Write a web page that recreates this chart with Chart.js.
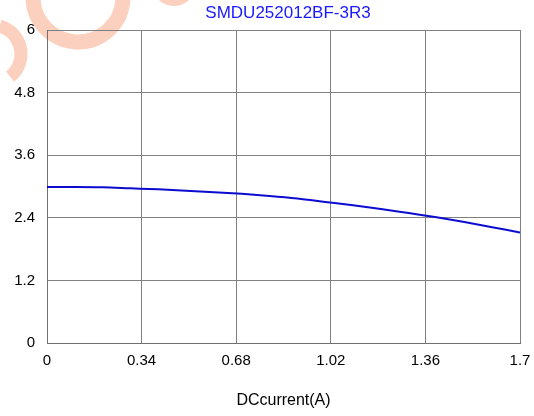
<!DOCTYPE html>
<html>
<head>
<meta charset="utf-8">
<script src="https://cdn.jsdelivr.net/npm/chart.js@4/dist/chart.umd.min.js"></script>
<style>
  html, body { margin: 0; padding: 0; background: #fff; }
  #wrap { width: 534px; height: 416px; }
</style>
</head>
<body>
<div id="wrap"><canvas id="courbe" width="534" height="416"></canvas></div>
<script>
// Inductance en fonction du courant DC
const chartTitle = "SMDU252012BF-3R3";
const xTitle = "DCcurrent(A)";
const current = [0, 0.1, 0.2, 0.3, 0.4, 0.5, 0.6, 0.7, 0.8, 0.9, 1.0, 1.1, 1.2, 1.3, 1.4, 1.5, 1.6, 1.7];
const inductance = [2.99, 2.99, 2.985, 2.965, 2.945, 2.92, 2.89, 2.86, 2.82, 2.77, 2.705, 2.64, 2.57, 2.49, 2.41, 2.32, 2.22, 2.12];
const xTicks = [0, 0.34, 0.68, 1.02, 1.36, 1.7];
const yTicks = [0, 1.2, 2.4, 3.6, 4.8, 6];

// filigrane + titre dessinés sur le canvas
const decor = {
  id: "decor",
  beforeDraw(chart) {
    const ctx = chart.ctx;
    ctx.save();
    ctx.strokeStyle = "#fcd0bf";
    ctx.lineCap = "butt";
    ctx.lineWidth = 15;
    ctx.beginPath();
    ctx.arc(78, -3, 45, 0.05, Math.PI - 0.05);
    ctx.stroke();
    ctx.lineWidth = 13;
    ctx.beginPath();
    ctx.arc(-8, 54, 29, -1.3, 0.9);
    ctx.stroke();
    ctx.lineWidth = 8;
    ctx.beginPath();
    ctx.arc(174, -16, 18, 0.3, Math.PI - 0.3);
    ctx.stroke();
    ctx.restore();
  },
  afterDraw(chart) {
    const ctx = chart.ctx;
    ctx.save();
    ctx.fillStyle = "#1a1aff";
    ctx.font = "17px 'Liberation Sans', Arial, sans-serif";
    ctx.textAlign = "center";
    ctx.textBaseline = "middle";
    ctx.fillText(chartTitle, 288, 13);
    ctx.restore();
  }
};

const el = document.getElementById("courbe");
new Chart(el, {
  type: "line",
  data: {
    datasets: [{
      data: current.map((x, i) => ({ x: x, y: inductance[i] })),
      borderColor: "#0c0cd0",
      borderWidth: 2,
      pointRadius: 0,
      fill: false,
      cubicInterpolationMode: "monotone"
    }]
  },
  options: {
    responsive: false,
    animation: false,
    layout: { padding: { top: 30, right: 14, left: 0, bottom: 0 } },
    plugins: { legend: { display: false }, title: { display: false }, tooltip: { enabled: false } },
    scales: {
      x: {
        type: "linear",
        min: 0,
        max: 1.7,
        afterBuildTicks: (s) => { s.ticks = xTicks.map(v => ({ value: v })); },
        afterFit: (s) => { s.height = 73; s.paddingLeft = 0; s.paddingRight = 0; },
        grid: { color: "#808080", drawTicks: false },
        border: { color: "#707070" },
        ticks: {
          color: "#000",
          padding: 9,
          maxRotation: 0,
          font: { family: "'Liberation Sans', Arial, sans-serif", size: 15 },
          callback: (v) => String(v)
        },
        title: {
          display: true,
          text: xTitle,
          color: "#000",
          padding: { top: 0, bottom: 6 },
          font: { family: "'Liberation Sans', Arial, sans-serif", size: 16 }
        }
      },
      y: {
        min: 0,
        max: 6,
        afterBuildTicks: (s) => { s.ticks = yTicks.map(v => ({ value: v })); },
        afterFit: (s) => { s.width = 47; s.paddingTop = 0; s.paddingBottom = 0; },
        grid: { color: "#808080", drawTicks: false },
        border: { color: "#707070" },
        ticks: {
          color: "#000",
          padding: 12,
          font: { family: "'Liberation Sans', Arial, sans-serif", size: 15 },
          callback: (v) => String(v)
        }
      }
    }
  },
  plugins: [decor]
});
</script>
</body>
</html>
